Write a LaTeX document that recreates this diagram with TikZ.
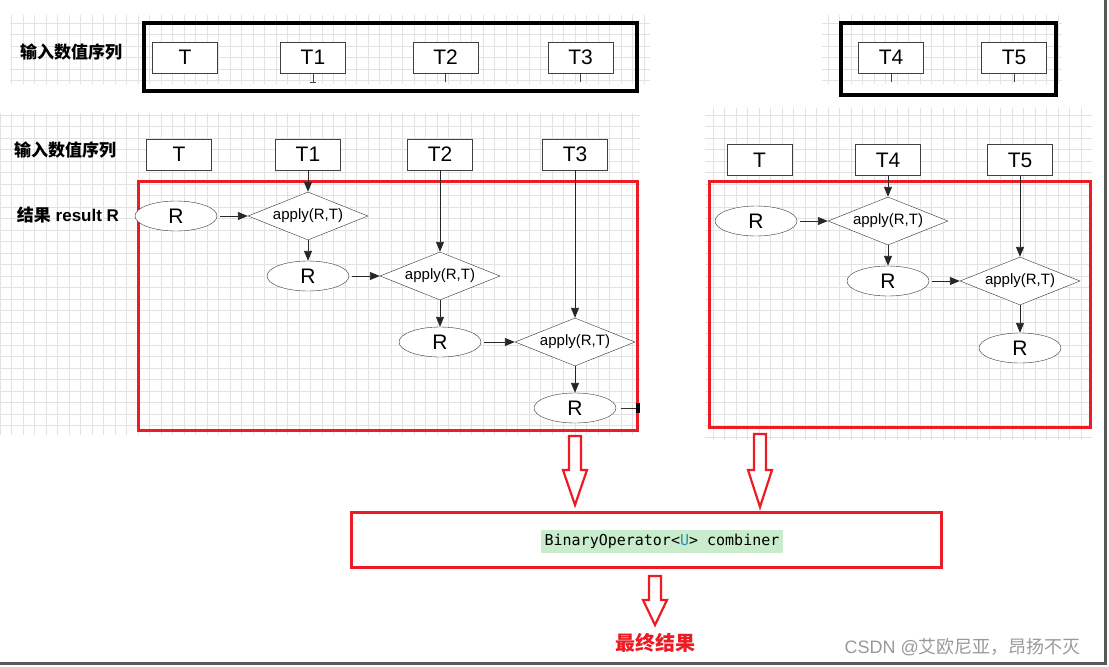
\documentclass[tikz,border=0pt]{standalone}
\usepackage{fontspec}
\setmainfont{Liberation Sans}
\newfontfamily\cjk{Noto Sans CJK SC}
\newfontfamily\codefont{DejaVu Sans Mono}
\usetikzlibrary{arrows.meta,shapes.geometric}
\definecolor{boxred}{RGB}{237,28,36}
\definecolor{gridgray}{RGB}{226,226,226}
\definecolor{codegreen}{RGB}{200,236,204}
\definecolor{typeteal}{RGB}{43,145,175}

\begin{document}
\begin{tikzpicture}[x=1pt, y=-1pt,
  every node/.style={font=\fontsize{21}{24}\selectfont},
  gridline/.style={gridgray, line width=0.8pt, step=11.5pt},
  rowtitle/.style={font=\fontsize{17}{20}\selectfont\bfseries},
  tbox/.style={draw=black!75, fill=white, minimum width=65pt, minimum height=31pt, inner sep=0pt},
  rnode/.style={ellipse, draw=black!80, fill=white, minimum width=82pt, minimum height=30pt, inner sep=0pt},
  applynode/.style={diamond, draw=black!80, fill=white, aspect=2.5, minimum width=120pt, minimum height=48pt, inner sep=0pt, font=\fontsize{15}{18}\selectfont},
  flow/.style={-{Triangle[length=10pt,width=8pt]}, black!85, line width=0.9pt},
  groupbox/.style={draw=boxred, line width=3pt},
  inputbox/.style={draw=black, line width=3.5pt},
  hollow/.style={draw=boxred, fill=white, line width=2.2pt, line join=miter}]
  \useasboundingbox (0,0) rectangle (1109,667);

  % input row, first part
  \draw[gridline] (10,15) grid (650,84);
  \draw[inputbox] (144,23) rectangle (637,91);
  \node[rowtitle] (intitle) at (71,52) {\cjk\bfseries 输入数值序列};
  \node[tbox] (a0) at (185,57.5) {T};
  \node[tbox] (a1) at (313,57.5) {T1};
  \node[tbox] (a2) at (445.5,57.5) {T2};
  \node[tbox] (a3) at (580.5,57.5) {T3};
  \draw[black!75] (a1.south) -- ++(0,9) ++(-3,0) -- ++(6,0);
  \draw[black!75] (a2.south) -- ++(0,9);
  \draw[black!75] (a3.south) -- ++(0,9);

  % input row, second part
  \draw[gridline] (822,15) grid (1062,84);
  \draw[inputbox] (841,23) rectangle (1056,95);
  \node[tbox] (b4) at (891,57.5) {T4};
  \node[tbox] (b5) at (1014,57.5) {T5};
  \draw[black!75] (b4.south) -- ++(0,9);
  \draw[black!75] (b5.south) -- ++(0,9);

  % accumulate, first part
  \draw[gridline] (0,113) grid (640,435);
  \draw[groupbox] (138,181) rectangle (637,430);
  \node[rowtitle] (seqtitle) at (65,150) {\cjk\bfseries 输入数值序列};
  \node[rowtitle] (restitle) at (68,215) {{\cjk\bfseries 结果} result R};
  \node[tbox] (c0) at (179,154.5) {T};
  \node[tbox] (c1) at (308,154.5) {T1};
  \node[tbox] (c2) at (440,154.5) {T2};
  \node[tbox] (c3) at (575,154.5) {T3};
  \node[rnode] (r1) at (176,216) {R};
  \node[applynode] (p1) at (308,216) {apply(R,T)};
  \node[rnode] (r2) at (308,276) {R};
  \node[applynode] (p2) at (440,276) {apply(R,T)};
  \node[rnode] (r3) at (440,342) {R};
  \node[applynode] (p3) at (575,342) {apply(R,T)};
  \node[rnode] (r4) at (575,408) {R};
  \draw[flow] (c1) -- (p1);
  \draw[flow, shorten <=3pt] (r1) -- (p1);
  \draw[flow] (p1) -- (r2);
  \draw[flow] (c2) -- (p2);
  \draw[flow, shorten <=3pt] (r2) -- (p2);
  \draw[flow] (p2) -- (r3);
  \draw[flow] (c3) -- (p3);
  \draw[flow, shorten <=3pt] (r3) -- (p3);
  \draw[flow] (p3) -- (r4);
  \draw[black!80, line width=0.8pt] ([xshift=5pt]r4.east) -- (636,408);
  \fill (636,403) rectangle (640,413);

  % accumulate, second part
  \draw[gridline] (705,108) grid (1092,440);
  \draw[groupbox] (709,181) rectangle (1090,427);
  \node[tbox] (d0) at (759.5,160) {T};
  \node[tbox] (d4) at (888,160) {T4};
  \node[tbox] (d5) at (1020,160) {T5};
  \node[rnode] (s1) at (756,221) {R};
  \node[applynode] (q4) at (888,221) {apply(R,T)};
  \node[rnode] (s2) at (888,281) {R};
  \node[applynode] (q5) at (1020,281) {apply(R,T)};
  \node[rnode] (s3) at (1020,348) {R};
  \draw[flow] (d4) -- (q4);
  \draw[flow, shorten <=3pt] (s1) -- (q4);
  \draw[flow] (q4) -- (s2);
  \draw[flow] (d5) -- (q5);
  \draw[flow, shorten <=3pt] (s2) -- (q5);
  \draw[flow] (q5) -- (s3);

  % combine both parts
  \foreach \cx/\ya/\yb/\yc in {575/436/470/505, 760/434/470/507, 655/576/600/625}
    \draw[hollow] (\cx-6,\ya) -- (\cx+6,\ya) -- (\cx+6,\yb) -- (\cx+12,\yb)
      -- (\cx,\yc) -- (\cx-12,\yb) -- (\cx-6,\yb) -- cycle;
  \draw[groupbox] (351,512) rectangle (941,567);
  \node[fill=codegreen, minimum height=23pt, inner xsep=4pt, inner ysep=0pt,
    font=\codefont\fontsize{15}{18}\selectfont] (combiner) at (662,541.5)
    {BinaryOperator<\textcolor{typeteal}{U}> combiner};
  \node[text=boxred, font=\fontsize{20}{24}\selectfont] (final) at (655,643) {\cjk\bfseries 最终结果};
  \node[anchor=west, text=black!40, font=\fontsize{18}{22}\selectfont] (mark) at (841,647)
    {CSDN @\cjk 艾欧尼亚，昂扬不灭};

  % screenshot frame
  \draw[black!65, line width=3pt] (1105,0) -- (1105,663) -- (0,663);
\end{tikzpicture}
\end{document}
